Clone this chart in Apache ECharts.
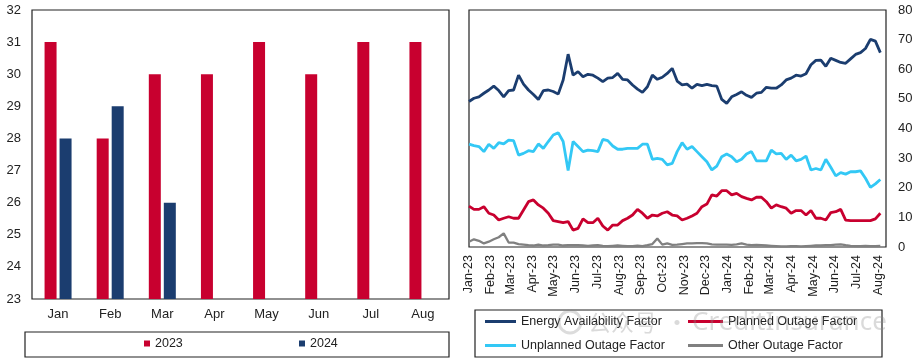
<!DOCTYPE html>
<html>
<head>
<meta charset="utf-8">
<script src="https://cdn.jsdelivr.net/npm/echarts@6/dist/echarts.min.js"></script>
<style>
html,body{margin:0;padding:0;background:#fff;}
#c{width:917px;height:363px;}
</style>
</head>
<body>
<div id="c"></div>
<script>
// ---- Left chart data ----
const months = ['Jan','Feb','Mar','Apr','May','Jun','Jul','Aug'];
const y2023 = [31,28,30,30,31,30,31,31];
const y2024 = [28,29,26,null,null,null,null,null];
const leftTicks = [23,24,25,26,27,28,29,30,31,32];

// ---- Right chart data (weekly, starting first week of Jan 2023) ----
const startDate = [2023,0,1];
const energyAvail = [49.1,50.2,50.7,51.9,53,54.3,52.8,50.7,52.8,53,58,55,53,51.5,49.8,52.8,53,52.5,51.6,56.4,
  65.1,58,59.2,57.5,58.3,58,57,55.8,57,57.2,58.6,56.6,56.4,54.7,53.3,52.2,54.1,58,56.6,57.3,
  58.6,60.3,56,54.7,55,53.6,54.9,54.5,54.9,54.5,54.3,49.8,48.5,50.7,51.5,52.4,51.2,50.5,51.9,52.2,
  53.9,53.6,53.6,54.7,56.4,57,58,57.7,58.5,61.5,63,63.1,61,63.7,63,62.3,62,63.5,65,65.6,
  67,70.1,69.5,65.6];
const plannedOutage = [13.8,12.7,12.7,13.6,11.4,10.8,9.1,9.7,10.2,9.7,9.7,12.5,15.3,15.9,14.2,13.1,11.4,8.9,8.6,8.2,
  8.6,5.7,6.3,9.5,8.2,8.2,9.7,7.1,5.7,7.4,7.4,8.9,9.7,10.8,12.7,11.4,9.7,10.8,10.5,11.4,
  11.9,10.8,10.5,9.1,9.7,10.5,11.4,13.6,14.5,17.6,17.2,19,19,17.6,18.1,17,16.4,15.9,16.8,16.8,
  15.3,13.1,14.2,13.6,13.1,11.4,12.3,12.3,10.8,12.3,9.7,9.7,9.1,11.6,11.9,12.7,9.1,8.9,8.9,8.9,
  8.9,8.9,9.5,11.4];
const unplannedOutage = [34.7,34.2,33.9,32.2,34.7,33.3,35.2,34.8,36.1,35.9,31,31.6,32.5,32.2,34.8,33.3,35.6,37.8,38.6,35.6,
  25.8,35.6,33.9,32.2,32.7,32.5,32.2,36.3,35.9,34.1,33,33,33.3,33.3,33.3,34.7,34.7,29.6,29.9,29.6,
  27.7,28.2,32.2,35.2,33,33.9,32.2,30.5,28.8,26,27.3,30.5,31.4,30.5,28.8,29.6,31.4,32.2,29.1,29.1,
  29.1,32.7,31.4,31.6,29.6,31,29.1,29.6,30.7,26,26.5,26,29.6,26.9,24,25.1,24.6,25.4,25.4,25.7,
  23.2,20.1,21.3,22.8];
const otherOutage = [1.8,2.6,2.1,1.2,1.8,2.6,3.3,4.6,1.5,1.5,1.0,0.8,0.6,0.5,0.8,0.5,0.6,0.8,0.8,0.5,
  0.6,0.6,0.6,0.5,0.4,0.5,0.6,0.4,0.3,0.4,0.5,0.4,0.3,0.3,0.5,0.3,0.6,1.0,2.9,0.8,
  1.2,0.7,0.8,1.0,1.2,1.2,1.3,1.3,1.2,0.9,0.8,0.8,0.8,0.7,0.9,1.2,0.8,0.6,0.7,0.6,
  0.5,0.4,0.3,0.2,0.2,0.3,0.3,0.2,0.3,0.4,0.5,0.5,0.6,0.6,0.8,0.9,0.6,0.4,0.3,0.3,
  0.4,0.3,0.3,0.4];
const rightTicks = [0,10,20,30,40,50,60,70,80];
const monthNames = ['Jan','Feb','Mar','Apr','May','Jun','Jul','Aug','Sep','Oct','Nov','Dec'];

const weekDates = energyAvail.map((_, i) => new Date(startDate[0], startDate[1], startDate[2] + 7 * i).getTime());
const pairs = arr => arr.map((v, i) => [weekDates[i], v]);

const RED = '#c8002f', NAVY = '#1b3d6f', CYAN = '#33c8f5', GREY = '#808080';
const FONT = "'Liberation Sans', Arial, sans-serif";
const TXT = '#222';
const WM_FONT = "'Noto Sans CJK SC', 'Noto Sans', sans-serif";
const WM_FILL = 'rgba(140,140,140,0.32)';

const chart = echarts.init(document.getElementById('c'), null, {renderer: 'canvas'});
const legendBase = {orient: 'horizontal', padding: 0, itemGap: 0,
  textStyle: {fontFamily: FONT, fontSize: 12.5, color: TXT}, selectedMode: false};

chart.setOption({
  backgroundColor: '#fff',
  animation: false,
  textStyle: {fontFamily: FONT},
  grid: [
    {left: 32, top: 10, width: 417, height: 289, show: true, borderColor: '#222', borderWidth: 1.2, backgroundColor: 'transparent'},
    {left: 469, top: 10, width: 417, height: 237, show: true, borderColor: '#222', borderWidth: 1.2, backgroundColor: 'transparent'}
  ],
  xAxis: [
    {type: 'category', gridIndex: 0, data: months,
     axisLine: {show: false}, axisTick: {show: false}, splitLine: {show: false},
     axisLabel: {color: TXT, fontSize: 13, fontFamily: FONT, margin: 9}},
    {type: 'time', gridIndex: 1,
     min: new Date(2023,0,1).getTime(), max: new Date(2024,7,12).getTime(),
     minInterval: 28*864e5, maxInterval: 31*864e5,
     axisLine: {show: false}, axisTick: {show: false}, splitLine: {show: false},
     axisLabel: {color: TXT, fontSize: 12.5, fontFamily: FONT, rotate: 90, margin: 8,
       showMinLabel: true, showMaxLabel: false, hideOverlap: false,
       formatter: function (v) {
         const d = new Date(v);
         if (d.getDate() !== 1) return '';
         return monthNames[d.getMonth()] + '-' + String(d.getFullYear()).slice(2);
       }}}
  ],
  yAxis: [
    {type: 'value', gridIndex: 0, min: leftTicks[0], max: leftTicks[leftTicks.length-1], interval: 1,
     axisLine: {show: false}, axisTick: {show: false}, splitLine: {show: false},
     axisLabel: {color: TXT, fontSize: 13, fontFamily: FONT, margin: 11}},
    {type: 'value', gridIndex: 1, position: 'right', min: rightTicks[0], max: rightTicks[rightTicks.length-1], interval: 10,
     axisLine: {show: false}, axisTick: {show: false}, splitLine: {show: false},
     axisLabel: {color: TXT, fontSize: 13, fontFamily: FONT, margin: 12}}
  ],
  legend: [
    Object.assign({}, legendBase, {left: 144, top: 337, data: ['2023'], icon: 'rect', itemWidth: 6, itemHeight: 6}),
    Object.assign({}, legendBase, {left: 299, top: 337, data: ['2024'], icon: 'rect', itemWidth: 6, itemHeight: 6}),
    Object.assign({}, legendBase, {left: 485, top: 315, data: ['Energy Availability Factor'], icon: 'rect', itemWidth: 31, itemHeight: 3}),
    Object.assign({}, legendBase, {left: 688, top: 315, data: ['Planned Outage Factor'], icon: 'rect', itemWidth: 35, itemHeight: 3}),
    Object.assign({}, legendBase, {left: 485, top: 339, data: ['Unplanned Outage Factor'], icon: 'rect', itemWidth: 31, itemHeight: 3}),
    Object.assign({}, legendBase, {left: 688, top: 339, data: ['Other Outage Factor'], icon: 'rect', itemWidth: 35, itemHeight: 3})
  ],
  graphic: [
    {type: 'rect', shape: {x: 25, y: 332, width: 424, height: 25}, style: {fill: 'none', stroke: '#222', lineWidth: 1.2}, silent: true},
    {type: 'rect', shape: {x: 475, y: 310, width: 407, height: 47}, style: {fill: 'none', stroke: '#222', lineWidth: 1.2}, silent: true},
    {type: 'circle', shape: {cx: 570, cy: 322, r: 11}, style: {fill: 'none', stroke: 'rgba(140,140,140,0.3)', lineWidth: 3}, z: 100, silent: true},
    {type: 'text', x: 588, y: 322, z: 100, silent: true,
     style: {text: '公众号', fontSize: 23, fontFamily: WM_FONT, fill: WM_FILL, verticalAlign: 'middle'}},
    {type: 'text', x: 665, y: 322, z: 100, silent: true,
     style: {text: '·', fontSize: 24, fontFamily: WM_FONT, fill: WM_FILL, verticalAlign: 'middle'}},
    {type: 'text', x: 692, y: 323, z: 100, silent: true,
     style: {text: 'CreditInsurance', fontSize: 26, fontFamily: "'Noto Sans', sans-serif", fill: WM_FILL, verticalAlign: 'middle'}}
  ],
  series: [
    {name: '2023', type: 'bar', xAxisIndex: 0, yAxisIndex: 0, data: y2023, barWidth: 12, barGap: '25%', clip: true,
     itemStyle: {color: RED}},
    {name: '2024', type: 'bar', xAxisIndex: 0, yAxisIndex: 0, data: y2024, barWidth: 12, barGap: '25%', clip: true,
     itemStyle: {color: NAVY}},
    {name: 'Energy Availability Factor', type: 'line', xAxisIndex: 1, yAxisIndex: 1, data: pairs(energyAvail),
     showSymbol: false, symbol: 'none', lineStyle: {color: NAVY, width: 2.8}, itemStyle: {color: NAVY}},
    {name: 'Planned Outage Factor', type: 'line', xAxisIndex: 1, yAxisIndex: 1, data: pairs(plannedOutage),
     showSymbol: false, symbol: 'none', lineStyle: {color: RED, width: 2.8}, itemStyle: {color: RED}},
    {name: 'Unplanned Outage Factor', type: 'line', xAxisIndex: 1, yAxisIndex: 1, data: pairs(unplannedOutage),
     showSymbol: false, symbol: 'none', lineStyle: {color: CYAN, width: 2.8}, itemStyle: {color: CYAN}},
    {name: 'Other Outage Factor', type: 'line', xAxisIndex: 1, yAxisIndex: 1, data: pairs(otherOutage),
     showSymbol: false, symbol: 'none', lineStyle: {color: GREY, width: 2.3}, itemStyle: {color: GREY}}
  ]
});
</script>
</body>
</html>
